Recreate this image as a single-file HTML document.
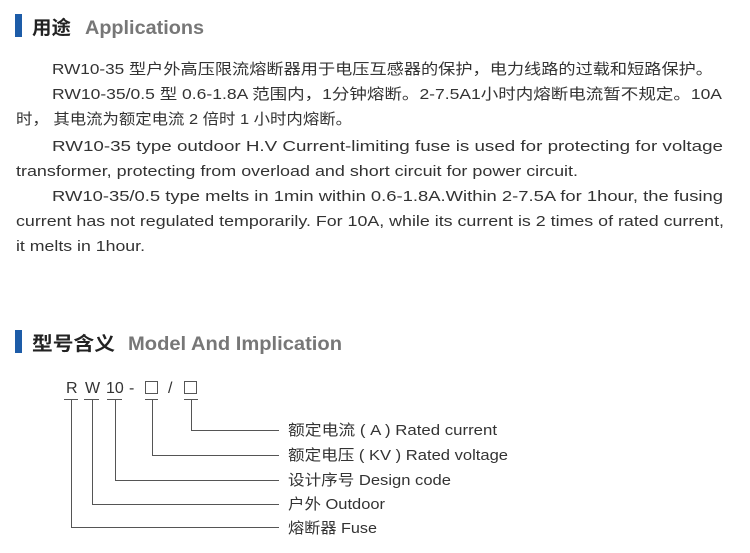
<!DOCTYPE html>
<html><head><meta charset="utf-8"><style>
html,body{margin:0;padding:0;background:#fff;width:750px;height:553px;overflow:hidden}
svg{display:block}
.t{font-family:"Liberation Sans","Noto Sans CJK SC",sans-serif;fill:#333;font-size:15px}
.h{font-family:"Liberation Sans","Noto Sans CJK SC",sans-serif;font-weight:bold;font-size:19px}
</style></head><body>
<svg width="750" height="553" viewBox="0 0 750 553" xmlns="http://www.w3.org/2000/svg">
<rect x="15" y="14" width="7" height="23" fill="#1d5ca8"/>
<text class="h" x="32" y="34" fill="#222" textLength="39" lengthAdjust="spacingAndGlyphs">用途</text>
<text class="h" x="85" y="34" fill="#777" textLength="119" lengthAdjust="spacingAndGlyphs">Applications</text>

<text class="t" x="52" y="74" textLength="661" lengthAdjust="spacingAndGlyphs">RW10-35 型户外高压限流熔断器用于电压互感器的保护，电力线路的过载和短路保护。</text>
<text class="t" x="52" y="99" textLength="670" lengthAdjust="spacingAndGlyphs">RW10-35/0.5 型 0.6-1.8A 范围内，1分钟熔断。2-7.5A1小时内熔断电流暂不规定。10A</text>
<text class="t" x="16" y="124" textLength="336" lengthAdjust="spacingAndGlyphs">时， 其电流为额定电流 2 倍时 1 小时内熔断。</text>
<text class="t" x="52" y="151" textLength="671" lengthAdjust="spacingAndGlyphs">RW10-35 type outdoor H.V Current-limiting  fuse is used for protecting for voltage</text>
<text class="t" x="16" y="176" textLength="562" lengthAdjust="spacingAndGlyphs">transformer, protecting from overload and short circuit for power circuit.</text>
<text class="t" x="52" y="201" textLength="671" lengthAdjust="spacingAndGlyphs">RW10-35/0.5 type melts in 1min within 0.6-1.8A.Within 2-7.5A for 1hour, the fusing</text>
<text class="t" x="16" y="226" textLength="708" lengthAdjust="spacingAndGlyphs">current has not regulated temporarily. For 10A, while its current is 2 times of rated current,</text>
<text class="t" x="16" y="251" textLength="129" lengthAdjust="spacingAndGlyphs">it melts in 1hour.</text>

<rect x="15" y="330" width="7" height="23" fill="#1d5ca8"/>
<text class="h" x="32" y="350" fill="#222" textLength="83" lengthAdjust="spacingAndGlyphs">型号含义</text>
<text class="h" x="128" y="350" fill="#777" textLength="214" lengthAdjust="spacingAndGlyphs">Model And Implication</text>

<g class="t" style="font-size:16px">
<text class="t" x="66" y="393" style="font-size:16px">R</text>
<text class="t" x="85" y="393" style="font-size:16px">W</text>
<text class="t" x="106" y="393" style="font-size:16px">10</text>
<text class="t" x="129" y="393" style="font-size:16px">-</text>
<text class="t" x="168" y="393" style="font-size:16px">/</text>
</g>
<g fill="none" stroke="#555" stroke-width="1">
<rect x="145.5" y="381.5" width="12" height="12"/>
<rect x="184.5" y="381.5" width="12" height="12"/>
<path d="M64 399.5H78M84 399.5H99M107 399.5H122M145 399.5H158M184 399.5H198"/>
<path d="M71.5 399V527.5H279M92.5 399V504.5H279M115.5 399V480.5H279M152.5 399V455.5H279M191.5 399V430.5H279"/>
</g>
<text class="t" x="288" y="435" textLength="209" lengthAdjust="spacingAndGlyphs">额定电流 ( A ) Rated current</text>
<text class="t" x="288" y="460" textLength="220" lengthAdjust="spacingAndGlyphs">额定电压 ( KV ) Rated voltage</text>
<text class="t" x="288" y="485" textLength="163" lengthAdjust="spacingAndGlyphs">设计序号 Design code</text>
<text class="t" x="288" y="509" textLength="97" lengthAdjust="spacingAndGlyphs">户外 Outdoor</text>
<text class="t" x="288" y="533" textLength="89" lengthAdjust="spacingAndGlyphs">熔断器 Fuse</text>
</svg>
</body></html>
